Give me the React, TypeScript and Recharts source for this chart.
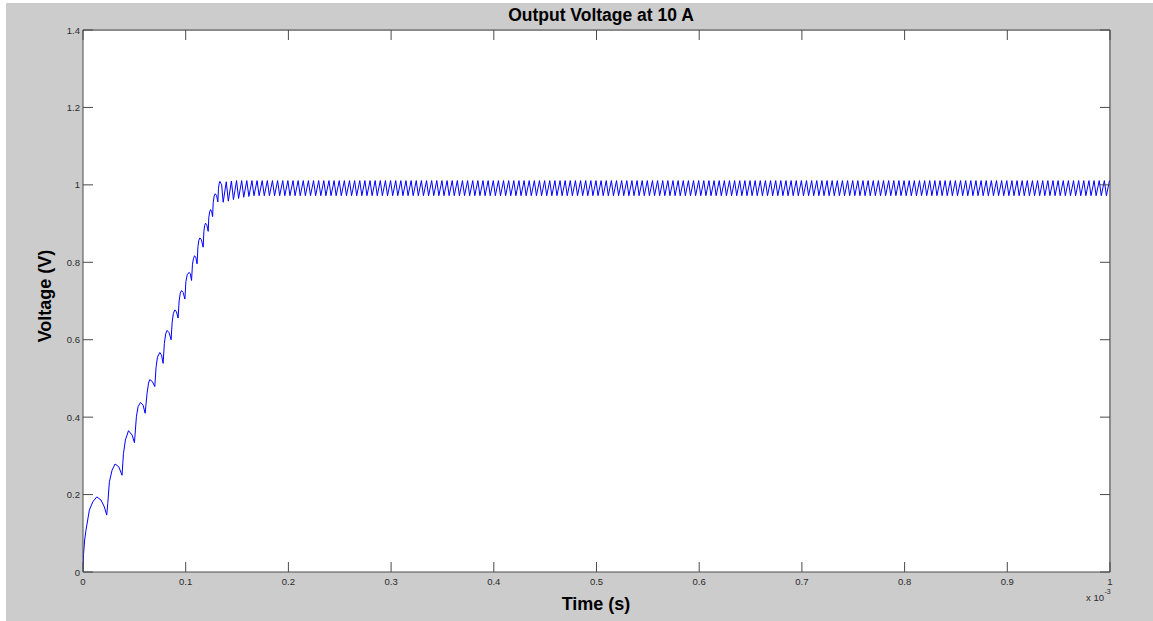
import React from 'react';
import { LineChart, Line, XAxis, YAxis } from 'recharts';

const W = 1153;
const H = 621;
const AXIS = '#4a4a4a';
const LBL = '#2a2a2a';
const FONT = '"Liberation Sans", Arial, Helvetica, sans-serif';

const xTicks = [0, 0.1, 0.2, 0.3, 0.4, 0.5, 0.6, 0.7, 0.8, 0.9, 1];
const xTickLabels = ['0', '0.1', '0.2', '0.3', '0.4', '0.5', '0.6', '0.7', '0.8', '0.9', '1'];
const yTicks = [0, 0.2, 0.4, 0.6, 0.8, 1, 1.2, 1.4];
const yTickLabels = ['0', '0.2', '0.4', '0.6', '0.8', '1', '1.2', '1.4'];

const titleText = 'Output Voltage at 10 A';
const xLabelText = 'Time (s)';
const yLabelText = 'Voltage (V)';
const xScaleBase = 'x 10';
const xScaleExp = '-3';

// start-up ramp (time in ms, voltage in V)
const rampPoints: [number, number][] = [
  [0, 0], [0.0005, 0.045], [0.0015, 0.08], [0.0029, 0.108], [0.0062, 0.16], [0.0095, 0.181], [0.0134, 0.194], [0.0175, 0.186], [0.0208, 0.168], [0.0231, 0.147],
  [0.0241, 0.177], [0.0257, 0.233], [0.0283, 0.263], [0.0312, 0.279], [0.0348, 0.272], [0.038, 0.25],
  [0.0394, 0.306], [0.0413, 0.341], [0.0443, 0.365], [0.0478, 0.354], [0.0501, 0.334],
  [0.052, 0.401], [0.0536, 0.427], [0.056, 0.438], [0.0585, 0.431], [0.0605, 0.41],
  [0.0624, 0.462], [0.0638, 0.488], [0.065, 0.497], [0.0675, 0.492], [0.0699, 0.479],
  [0.0712, 0.53], [0.0725, 0.555], [0.0748, 0.567], [0.0765, 0.56], [0.078, 0.539],
  [0.0792, 0.59], [0.0805, 0.615], [0.0819, 0.624], [0.0838, 0.618], [0.0858, 0.6],
  [0.0868, 0.645], [0.088, 0.668], [0.0894, 0.677], [0.091, 0.672], [0.0926, 0.656],
  [0.0936, 0.7], [0.0947, 0.72], [0.0959, 0.727], [0.0975, 0.722], [0.0992, 0.705],
  [0.1002, 0.75], [0.1015, 0.768], [0.1033, 0.774], [0.1045, 0.77], [0.1057, 0.753],
  [0.1066, 0.795], [0.1076, 0.81], [0.1086, 0.817], [0.1098, 0.813], [0.1111, 0.796],
  [0.1119, 0.84], [0.1128, 0.857], [0.1138, 0.863], [0.1153, 0.858], [0.117, 0.839],
  [0.1177, 0.88], [0.1185, 0.895], [0.1193, 0.901], [0.1205, 0.897], [0.1219, 0.88],
  [0.1225, 0.915], [0.1233, 0.93], [0.1242, 0.936], [0.1252, 0.932], [0.1262, 0.918],
  [0.1268, 0.955], [0.1277, 0.971], [0.1287, 0.977], [0.13, 0.973], [0.1313, 0.956],
  [0.1319, 0.99], [0.1326, 1.004], [0.1333, 1.009], [0.135, 1.0], [0.1365, 0.955],
];

// steady-state ripple (troughs and peaks)
const ripplePoints: [number, number][] = [
  [0.1395, 1.008],
  [0.1415, 0.958], [0.1445, 1.01], [0.1465, 0.962], [0.1495, 1.011],
  [0.1515, 0.965], [0.1545, 1.011], [0.1565, 0.968], [0.1595, 1.011],
  [0.1615, 0.97], [0.1645, 1.011], [0.1665, 0.972], [0.1695, 1.011],
  [0.1715, 0.972], [0.1745, 1.011], [0.1765, 0.972], [0.1795, 1.011],
  [0.1815, 0.972], [0.1845, 1.011], [0.1865, 0.972], [0.1895, 1.011],
  [0.1915, 0.972], [0.1945, 1.011], [0.1965, 0.972], [0.1995, 1.011],
  [0.2015, 0.972], [0.2045, 1.011], [0.2065, 0.972], [0.2095, 1.011],
  [0.2115, 0.972], [0.2145, 1.011], [0.2165, 0.972], [0.2195, 1.011],
  [0.2215, 0.972], [0.2245, 1.011], [0.2265, 0.972], [0.2295, 1.011],
  [0.2315, 0.972], [0.2345, 1.011], [0.2365, 0.972], [0.2395, 1.011],
  [0.2415, 0.972], [0.2445, 1.011], [0.2465, 0.972], [0.2495, 1.011],
  [0.2515, 0.972], [0.2545, 1.011], [0.2565, 0.972], [0.2595, 1.011],
  [0.2615, 0.972], [0.2645, 1.011], [0.2665, 0.972], [0.2695, 1.011],
  [0.2715, 0.972], [0.2745, 1.011], [0.2765, 0.972], [0.2795, 1.011],
  [0.2815, 0.972], [0.2845, 1.011], [0.2865, 0.972], [0.2895, 1.011],
  [0.2915, 0.972], [0.2945, 1.011], [0.2965, 0.972], [0.2995, 1.011],
  [0.3015, 0.972], [0.3045, 1.011], [0.3065, 0.972], [0.3095, 1.011],
  [0.3115, 0.972], [0.3145, 1.011], [0.3165, 0.972], [0.3195, 1.011],
  [0.3215, 0.972], [0.3245, 1.011], [0.3265, 0.972], [0.3295, 1.011],
  [0.3315, 0.972], [0.3345, 1.011], [0.3365, 0.972], [0.3395, 1.011],
  [0.3415, 0.972], [0.3445, 1.011], [0.3465, 0.972], [0.3495, 1.011],
  [0.3515, 0.972], [0.3545, 1.011], [0.3565, 0.972], [0.3595, 1.011],
  [0.3615, 0.972], [0.3645, 1.011], [0.3665, 0.972], [0.3695, 1.011],
  [0.3715, 0.972], [0.3745, 1.011], [0.3765, 0.972], [0.3795, 1.011],
  [0.3815, 0.972], [0.3845, 1.011], [0.3865, 0.972], [0.3895, 1.011],
  [0.3915, 0.972], [0.3945, 1.011], [0.3965, 0.972], [0.3995, 1.011],
  [0.4015, 0.972], [0.4045, 1.011], [0.4065, 0.972], [0.4095, 1.011],
  [0.4115, 0.972], [0.4145, 1.011], [0.4165, 0.972], [0.4195, 1.011],
  [0.4215, 0.972], [0.4245, 1.011], [0.4265, 0.972], [0.4295, 1.011],
  [0.4315, 0.972], [0.4345, 1.011], [0.4365, 0.972], [0.4395, 1.011],
  [0.4415, 0.972], [0.4445, 1.011], [0.4465, 0.972], [0.4495, 1.011],
  [0.4515, 0.972], [0.4545, 1.011], [0.4565, 0.972], [0.4595, 1.011],
  [0.4615, 0.972], [0.4645, 1.011], [0.4665, 0.972], [0.4695, 1.011],
  [0.4715, 0.972], [0.4745, 1.011], [0.4765, 0.972], [0.4795, 1.011],
  [0.4815, 0.972], [0.4845, 1.011], [0.4865, 0.972], [0.4895, 1.011],
  [0.4915, 0.972], [0.4945, 1.011], [0.4965, 0.972], [0.4995, 1.011],
  [0.5015, 0.972], [0.5045, 1.011], [0.5065, 0.972], [0.5095, 1.011],
  [0.5115, 0.972], [0.5145, 1.011], [0.5165, 0.972], [0.5195, 1.011],
  [0.5215, 0.972], [0.5245, 1.011], [0.5265, 0.972], [0.5295, 1.011],
  [0.5315, 0.972], [0.5345, 1.011], [0.5365, 0.972], [0.5395, 1.011],
  [0.5415, 0.972], [0.5445, 1.011], [0.5465, 0.972], [0.5495, 1.011],
  [0.5515, 0.972], [0.5545, 1.011], [0.5565, 0.972], [0.5595, 1.011],
  [0.5615, 0.972], [0.5645, 1.011], [0.5665, 0.972], [0.5695, 1.011],
  [0.5715, 0.972], [0.5745, 1.011], [0.5765, 0.972], [0.5795, 1.011],
  [0.5815, 0.972], [0.5845, 1.011], [0.5865, 0.972], [0.5895, 1.011],
  [0.5915, 0.972], [0.5945, 1.011], [0.5965, 0.972], [0.5995, 1.011],
  [0.6015, 0.972], [0.6045, 1.011], [0.6065, 0.972], [0.6095, 1.011],
  [0.6115, 0.972], [0.6145, 1.011], [0.6165, 0.972], [0.6195, 1.011],
  [0.6215, 0.972], [0.6245, 1.011], [0.6265, 0.972], [0.6295, 1.011],
  [0.6315, 0.972], [0.6345, 1.011], [0.6365, 0.972], [0.6395, 1.011],
  [0.6415, 0.972], [0.6445, 1.011], [0.6465, 0.972], [0.6495, 1.011],
  [0.6515, 0.972], [0.6545, 1.011], [0.6565, 0.972], [0.6595, 1.011],
  [0.6615, 0.972], [0.6645, 1.011], [0.6665, 0.972], [0.6695, 1.011],
  [0.6715, 0.972], [0.6745, 1.011], [0.6765, 0.972], [0.6795, 1.011],
  [0.6815, 0.972], [0.6845, 1.011], [0.6865, 0.972], [0.6895, 1.011],
  [0.6915, 0.972], [0.6945, 1.011], [0.6965, 0.972], [0.6995, 1.011],
  [0.7015, 0.972], [0.7045, 1.011], [0.7065, 0.972], [0.7095, 1.011],
  [0.7115, 0.972], [0.7145, 1.011], [0.7165, 0.972], [0.7195, 1.011],
  [0.7215, 0.972], [0.7245, 1.011], [0.7265, 0.972], [0.7295, 1.011],
  [0.7315, 0.972], [0.7345, 1.011], [0.7365, 0.972], [0.7395, 1.011],
  [0.7415, 0.972], [0.7445, 1.011], [0.7465, 0.972], [0.7495, 1.011],
  [0.7515, 0.972], [0.7545, 1.011], [0.7565, 0.972], [0.7595, 1.011],
  [0.7615, 0.972], [0.7645, 1.011], [0.7665, 0.972], [0.7695, 1.011],
  [0.7715, 0.972], [0.7745, 1.011], [0.7765, 0.972], [0.7795, 1.011],
  [0.7815, 0.972], [0.7845, 1.011], [0.7865, 0.972], [0.7895, 1.011],
  [0.7915, 0.972], [0.7945, 1.011], [0.7965, 0.972], [0.7995, 1.011],
  [0.8015, 0.972], [0.8045, 1.011], [0.8065, 0.972], [0.8095, 1.011],
  [0.8115, 0.972], [0.8145, 1.011], [0.8165, 0.972], [0.8195, 1.011],
  [0.8215, 0.972], [0.8245, 1.011], [0.8265, 0.972], [0.8295, 1.011],
  [0.8315, 0.972], [0.8345, 1.011], [0.8365, 0.972], [0.8395, 1.011],
  [0.8415, 0.972], [0.8445, 1.011], [0.8465, 0.972], [0.8495, 1.011],
  [0.8515, 0.972], [0.8545, 1.011], [0.8565, 0.972], [0.8595, 1.011],
  [0.8615, 0.972], [0.8645, 1.011], [0.8665, 0.972], [0.8695, 1.011],
  [0.8715, 0.972], [0.8745, 1.011], [0.8765, 0.972], [0.8795, 1.011],
  [0.8815, 0.972], [0.8845, 1.011], [0.8865, 0.972], [0.8895, 1.011],
  [0.8915, 0.972], [0.8945, 1.011], [0.8965, 0.972], [0.8995, 1.011],
  [0.9015, 0.972], [0.9045, 1.011], [0.9065, 0.972], [0.9095, 1.011],
  [0.9115, 0.972], [0.9145, 1.011], [0.9165, 0.972], [0.9195, 1.011],
  [0.9215, 0.972], [0.9245, 1.011], [0.9265, 0.972], [0.9295, 1.011],
  [0.9315, 0.972], [0.9345, 1.011], [0.9365, 0.972], [0.9395, 1.011],
  [0.9415, 0.972], [0.9445, 1.011], [0.9465, 0.972], [0.9495, 1.011],
  [0.9515, 0.972], [0.9545, 1.011], [0.9565, 0.972], [0.9595, 1.011],
  [0.9615, 0.972], [0.9645, 1.011], [0.9665, 0.972], [0.9695, 1.011],
  [0.9715, 0.972], [0.9745, 1.011], [0.9765, 0.972], [0.9795, 1.011],
  [0.9815, 0.972], [0.9845, 1.011], [0.9865, 0.972], [0.9895, 1.011],
  [0.9915, 0.972], [0.9945, 1.011], [0.9965, 0.972], [0.9995, 1.011],
  [1.0, 1.006],
];

const data = [...rampPoints, ...ripplePoints].map(([t, v]) => ({ t, v }));

const labelOf = (ticks: number[], labels: string[], value: number) => {
  const i = ticks.findIndex((k) => Math.abs(k - value) < 1e-9);
  return i >= 0 ? labels[i] : String(value);
};

const TICK_LEN = 10;

const BottomTick = (props: any) => {
  const { x, y, payload } = props;
  return (
    <g>
      <line x1={x} y1={y} x2={x} y2={y - TICK_LEN} stroke={AXIS} strokeWidth={1} />
      <text x={x} y={y + 9} textAnchor="middle" dominantBaseline="central" fontSize={9.5} fill={LBL} fontFamily={FONT}>
        {labelOf(xTicks, xTickLabels, payload.value)}
      </text>
    </g>
  );
};

const TopTick = (props: any) => {
  const { x, y } = props;
  return (
    <g>
      <line x1={x} y1={y} x2={x} y2={y + TICK_LEN} stroke={AXIS} strokeWidth={1} />
    </g>
  );
};

const LeftTick = (props: any) => {
  const { x, y, payload } = props;
  return (
    <g>
      <line x1={x} y1={y} x2={x + TICK_LEN} y2={y} stroke={AXIS} strokeWidth={1} />
      <text x={x - 3} y={y} textAnchor="end" dominantBaseline="central" fontSize={9.5} fill={LBL} fontFamily={FONT}>
        {labelOf(yTicks, yTickLabels, payload.value)}
      </text>
    </g>
  );
};

const RightTick = (props: any) => {
  const { x, y } = props;
  return (
    <g>
      <line x1={x} y1={y} x2={x - TICK_LEN} y2={y} stroke={AXIS} strokeWidth={1} />
    </g>
  );
};

export default function App() {
  return (
    <div style={{ position: 'absolute', left: 0, top: 0, width: W, height: H, background: '#ffffff', overflow: 'hidden' }}>
      <div style={{ position: 'absolute', left: 6, top: 3, width: W - 6, height: H - 3, background: '#cccccc' }} />
      <div style={{ position: 'absolute', left: 83, top: 31, width: 1109 - 83, height: 572 - 31, background: '#ffffff' }} />
      <div style={{ position: 'absolute', left: 0, top: 0 }}>
        <LineChart width={W} height={H} data={data} margin={{ top: 30, right: 43, bottom: 0, left: 0 }}>
          <XAxis
            xAxisId="bottom"
            dataKey="t"
            type="number"
            domain={[0, 1]}
            ticks={xTicks}
            interval={0}
            height={49}
            tickSize={0}
            tickMargin={0}
            tickLine={false}
            axisLine={{ stroke: AXIS, strokeWidth: 1 }}
            tick={<BottomTick />}
            allowDataOverflow
          />
          <XAxis
            xAxisId="top"
            dataKey="t"
            type="number"
            orientation="top"
            domain={[0, 1]}
            ticks={xTicks}
            interval={0}
            height={1}
            tickSize={0}
            tickMargin={0}
            tickLine={false}
            mirror
            axisLine={{ stroke: AXIS, strokeWidth: 1 }}
            tick={<TopTick />}
            allowDataOverflow
          />
          <YAxis
            yAxisId="left"
            type="number"
            domain={[0, 1.4]}
            ticks={yTicks}
            interval={0}
            width={83}
            tickSize={0}
            tickMargin={0}
            tickLine={false}
            axisLine={{ stroke: AXIS, strokeWidth: 1 }}
            tick={<LeftTick />}
            allowDataOverflow
          />
          <YAxis
            yAxisId="right"
            type="number"
            orientation="right"
            domain={[0, 1.4]}
            ticks={yTicks}
            interval={0}
            width={1}
            tickSize={0}
            tickMargin={0}
            tickLine={false}
            mirror
            axisLine={{ stroke: AXIS, strokeWidth: 1 }}
            tick={<RightTick />}
            allowDataOverflow
          />
          <Line
            xAxisId="bottom"
            yAxisId="left"
            type="linear"
            dataKey="v"
            stroke="#0000ff"
            strokeWidth={1}
            dot={false}
            activeDot={false}
            isAnimationActive={false}
          />
          <Line
            xAxisId="top"
            yAxisId="right"
            type="linear"
            dataKey="v"
            stroke="none"
            strokeWidth={0}
            dot={false}
            activeDot={false}
            isAnimationActive={false}
          />
        </LineChart>
      </div>
      <svg width={W} height={H} style={{ position: 'absolute', left: 0, top: 0, pointerEvents: 'none' }}>
        <text x={601} y={15} textAnchor="middle" dominantBaseline="central" fontSize={17.5} fontWeight="bold" fill="#000" fontFamily={FONT}>
          {titleText}
        </text>
        <text x={596} y={604} textAnchor="middle" dominantBaseline="central" fontSize={18} fontWeight="bold" fill="#000" fontFamily={FONT}>
          {xLabelText}
        </text>
        <text
          x={45}
          y={296}
          textAnchor="middle"
          dominantBaseline="central"
          fontSize={18}
          fontWeight="bold"
          fill="#000"
          fontFamily={FONT}
          transform="rotate(-90 45 296)"
        >
          {yLabelText}
        </text>
        <text x={1104} y={597} textAnchor="end" dominantBaseline="central" fontSize={9.5} fill={LBL} fontFamily={FONT}>
          {xScaleBase}
        </text>
        <text x={1104.5} y={591} textAnchor="start" dominantBaseline="central" fontSize={7} fill={LBL} fontFamily={FONT}>
          {xScaleExp}
        </text>
      </svg>
    </div>
  );
}
